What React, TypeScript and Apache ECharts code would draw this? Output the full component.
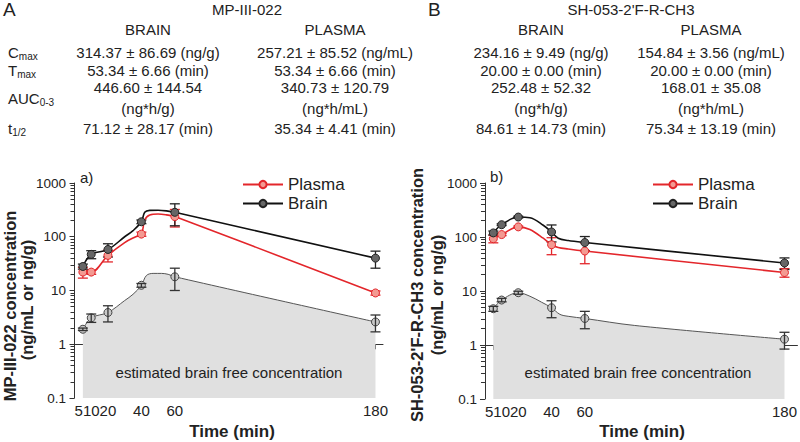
import React, { useEffect, useRef } from 'react';
import * as echarts from 'echarts';

// ---------- data ----------
const times = [5, 10, 20, 40, 60, 180];
const xTicks = [5, 10, 20, 40, 60, 180];
const xLabelsFirst = [5];
const xLabelsRest = [10, 20, 40, 60, 180];

// Panel a) MP-III-022
const plasmaA = [22, 22, 45, 112, 237, 9];
const plasmaSdA = [5, 2, 11, 10, 85, 0.8];
const brainA = [28, 47, 58, 190, 285, 40];
const brainSdA = [3, 8, 16, 15, 125, 14];
const freeA = [1.9, 3.1, 3.9, 12.5, 18, 2.6];
const freeSdA = [0.1, 0.55, 1.3, 1, 8, 0.9];
// fitted curve points (no markers)
const plasmaFitA: [number, number][] = [[30, 78], [36, 98], [42, 205], [45, 255], [50, 265], [55, 255]];
const brainFitA: [number, number][] = [[30, 100], [35, 130], [42, 285], [45, 310], [50, 312], [55, 303]];
const freeFitA: [number, number][] = [[30, 6.5], [35, 8.5], [43, 19], [47, 20.8], [52, 20.8], [56, 20]];

// Panel b) SH-053-2'F-R-CH3
const plasmaB = [93, 111, 154, 72, 55, 22];
const plasmaSdB = [15, 5, 5, 25, 23, 4];
const brainB = [119, 169, 234, 124, 79, 33];
const brainSdB = [10, 6, 8, 43, 23, 8];
const freeB = [4.7, 6.8, 9.3, 4.9, 3.1, 1.28];
const freeSdB = [0.5, 0.5, 0.6, 1.7, 1.1, 0.44];
const plasmaFitB: [number, number][] = [[27, 138], [35, 95], [44, 64], [50, 60]];
const brainFitB: [number, number][] = [[27, 228], [35, 165], [44, 95], [50, 86]];
const freeFitB: [number, number][] = [[27, 8.0], [34, 6.2], [45, 3.7], [50, 3.4], [90, 2.3]];

// table texts
const statNames = ['C', 'T', 'AUC', 't'];
const statSubs = ['max', 'max', '0-3', '1/2'];
const brainStatsA = ['314.37 ± 86.69 (ng/g)', '53.34 ± 6.66 (min)', '446.60 ± 144.54', '(ng*h/g)', '71.12 ± 28.17 (min)'];
const plasmaStatsA = ['257.21 ± 85.52 (ng/mL)', '53.34 ± 6.66 (min)', '340.73 ± 120.79', '(ng*h/mL)', '35.34 ± 4.41 (min)'];
const brainStatsB = ['234.16 ± 9.49 (ng/g)', '20.00 ± 0.00 (min)', '252.48 ± 52.32', '(ng*h/g)', '84.61 ± 14.73 (min)'];
const plasmaStatsB = ['154.84 ± 3.56 (ng/mL)', '20.00 ± 0.00 (min)', '168.01 ± 35.08', '(ng*h/mL)', '75.34 ± 13.19 (min)'];

const FONT = '"Liberation Sans", Arial, sans-serif';
const TXT = '#222';
const RED = '#e3262b';

function buildData(vals: number[], fit: [number, number][]) {
  const pts: any[] = times.map((t, i) => ({ value: [t, vals[i]], t }));
  fit.forEach(([t, v]) => pts.push({ value: [t, v], symbol: 'none', t }));
  pts.sort((a, b) => a.t - b.t);
  return pts.map((p) => (p.symbol ? { value: p.value, symbol: 'none' } : { value: p.value }));
}

function errData(vals: number[], sd: number[]) {
  return times.map((t, i) => [t, vals[i] - sd[i], vals[i] + sd[i]]);
}

function errSeries(p: number, vals: number[], sd: number[], color: string) {
  return {
    type: 'custom',
    xAxisIndex: p,
    yAxisIndex: p,
    z: 3,
    encode: { x: 0, y: [1, 2] },
    data: errData(vals, sd),
    renderItem: (_params: any, api: any) => {
      const x = api.value(0);
      const lo = api.coord([x, api.value(1)]);
      const hi = api.coord([x, api.value(2)]);
      const w = 5;
      const st = { stroke: color, lineWidth: 1.3 };
      return {
        type: 'group',
        children: [
          { type: 'line', shape: { x1: hi[0], y1: hi[1], x2: lo[0], y2: lo[1] }, style: st },
          { type: 'line', shape: { x1: hi[0] - w, y1: hi[1], x2: hi[0] + w, y2: hi[1] }, style: st },
          { type: 'line', shape: { x1: lo[0] - w, y1: lo[1], x2: lo[0] + w, y2: lo[1] }, style: st },
        ],
      };
    },
  };
}

function panelSeries(p: number, plasma: number[], plasmaSd: number[], plasmaFit: [number, number][],
  brain: number[], brainSd: number[], brainFit: [number, number][],
  free: number[], freeSd: number[], freeFit: [number, number][]) {
  return [
    {
      type: 'line', name: 'Free', xAxisIndex: p, yAxisIndex: p, smooth: 0.35, showAllSymbol: true,
      symbol: 'circle', symbolSize: 8, z: 2,
      data: buildData(free, freeFit),
      lineStyle: { color: '#555', width: 1 },
      itemStyle: { color: '#c8c8c8', borderColor: '#444', borderWidth: 1 },
      areaStyle: { color: '#e0e0e0', opacity: 1, origin: 'start' },
    },
    errSeries(p, free, freeSd, '#333'),
    {
      type: 'line', name: 'Plasma', xAxisIndex: p, yAxisIndex: p, smooth: 0.35, showAllSymbol: true,
      symbol: 'circle', symbolSize: 8, z: 4,
      data: buildData(plasma, plasmaFit),
      lineStyle: { color: RED, width: 1.6 },
      itemStyle: { color: '#f39a92', borderColor: RED, borderWidth: 1 },
    },
    errSeries(p, plasma, plasmaSd, RED),
    {
      type: 'line', name: 'Brain', xAxisIndex: p, yAxisIndex: p, smooth: 0.35, showAllSymbol: true,
      symbol: 'circle', symbolSize: 8, z: 5,
      data: buildData(brain, brainFit),
      lineStyle: { color: '#111', width: 1.6 },
      itemStyle: { color: '#666', borderColor: '#222', borderWidth: 1 },
    },
    errSeries(p, brain, brainSd, '#222'),
  ];
}

function txt(text: string, x: number, y: number, size: number, extra: any = {}) {
  return {
    type: 'text', x, y, z: 100, silent: true,
    style: { text, fontSize: size, fontFamily: FONT, fill: TXT, align: 'center', verticalAlign: 'middle', ...extra },
  };
}

function tableGraphics(letter: string, lx: number, title: string, tx: number, bx: number, px: number,
  brainStats: string[], plasmaStats: string[], withLabels: boolean) {
  const rowsY = [52, 70, 87, 108, 128];
  const g: any[] = [
    txt(letter, lx, 9.5, 19, { align: 'left' }),
    txt(title, tx, 9, 15),
    txt('BRAIN', bx, 29, 15),
    txt('PLASMA', px, 29, 15),
  ];
  brainStats.forEach((s, i) => g.push(txt(s, bx, rowsY[i], 15)));
  plasmaStats.forEach((s, i) => g.push(txt(s, px, rowsY[i], 15)));
  if (withLabels) {
    const labY = [52, 70, 98, 128];
    statNames.forEach((n, i) => {
      g.push({
        type: 'text', x: 8, y: labY[i], z: 100, silent: true,
        style: {
          text: `{m|${n}}{s|${statSubs[i]}}`, align: 'left', verticalAlign: 'middle',
          rich: {
            m: { fontSize: 15, fontFamily: FONT, fill: TXT },
            s: { fontSize: 10, fontFamily: FONT, fill: TXT, padding: [9, 0, 0, 0] },
          },
        },
      });
    });
  }
  return g;
}

const minorLogs: number[] = [];
for (let d = -1; d <= 2; d++) {
  for (let k = 2; k <= 9; k++) minorLogs.push(Math.log10(k * Math.pow(10, d)));
}

export default function App() {
  const ref = useRef<HTMLDivElement>(null);
  useEffect(() => {
    if (!ref.current) return;
    const chart = echarts.init(ref.current, undefined, { renderer: 'svg' });
    const axisColor = '#333';
    const xMin = [-1.5, -1.2];
    const xMax = [184.5, 187.8];
    const labelStyle = { fontSize: 15, color: TXT, margin: 5, fontFamily: FONT, showMinLabel: true, showMaxLabel: true };
    const xAxisMain = [0, 1].map((i) => ({
      type: 'value', gridIndex: i, min: xMin[i], max: xMax[i], position: 'bottom',
      axisLine: { show: true, lineStyle: { color: axisColor } },
      axisTick: { show: true, customValues: xTicks, length: 5, lineStyle: { color: axisColor } },
      axisLabel: { show: true, customValues: xLabelsRest, ...labelStyle },
      splitLine: { show: false },
    }));
    const xAxisFirst = [0, 1].map((i) => ({
      type: 'value', gridIndex: i, min: xMin[i], max: xMax[i], position: 'bottom',
      axisLine: { show: false },
      axisTick: { show: false },
      axisLabel: { show: true, customValues: xLabelsFirst, ...labelStyle, align: 'right', padding: [0, 0, 0, 0] },
      splitLine: { show: false },
    }));
    const logY = [0, 1].map((i) => ({
      type: 'log', logBase: 10, gridIndex: i, min: 0.1, max: 1000, position: 'left',
      axisLine: { show: true, lineStyle: { color: axisColor } },
      axisTick: { show: true, length: 5, lineStyle: { color: axisColor } },
      axisLabel: {
        fontSize: 13.5, color: TXT, margin: 6, fontFamily: FONT,
        formatter: (v: number) => (v < 1 ? '0.1' : String(Math.round(v))),
      },
      splitLine: { show: false },
    }));
    const minorY = [0, 1].map((i) => ({
      type: 'value', gridIndex: i, min: -1, max: 3, position: 'left',
      axisLine: { show: false },
      axisTick: { show: true, customValues: minorLogs, length: 4, lineStyle: { color: axisColor } },
      axisLabel: { show: false },
      splitLine: { show: false },
    }));

    const graphic: any[] = [
      ...tableGraphics('A', 3, 'MP-III-022', 247, 148, 335, brainStatsA, plasmaStatsA, true),
      ...tableGraphics('B', 428, "SH-053-2'F-R-CH3", 631, 541, 711, brainStatsB, plasmaStatsB, false),
      txt('a)', 80, 177, 15, { align: 'left' }),
      txt('b)', 490, 176, 15, { align: 'left' }),
      txt('estimated brain free concentration', 229, 372, 15),
      txt('estimated brain free concentration', 638, 372, 15),
      txt('Time (min)', 232, 431, 17, { fontWeight: 'bold' }),
      txt('Time (min)', 642, 431, 17, { fontWeight: 'bold' }),
      { ...txt('MP-III-022 concentration', 10, 306, 16.5, { fontWeight: 'bold' }), rotation: Math.PI / 2 },
      { ...txt('(ng/mL or ng/g)', 27, 300, 16.5, { fontWeight: 'bold' }), rotation: Math.PI / 2 },
      { ...txt("SH-053-2'F-R-CH3 concentration", 417, 295, 16.5, { fontWeight: 'bold' }), rotation: Math.PI / 2 },
      { ...txt('(ng/mL or ng/g)', 437, 295, 16.5, { fontWeight: 'bold' }), rotation: Math.PI / 2 },
    ];

    const legendCommon = {
      orient: 'vertical', top: 171, itemWidth: 40, itemHeight: 9, itemGap: 2,
      data: ['Plasma', 'Brain'], selectedMode: false,
      textStyle: { fontSize: 17, color: TXT, fontFamily: FONT },
    };

    chart.setOption({
      animation: false,
      backgroundColor: '#fff',
      grid: [
        { left: 72, top: 183, width: 311, height: 215 },
        { left: 483, top: 183, width: 315, height: 216 },
      ],
      legend: [
        { ...legendCommon, left: 237 },
        { ...legendCommon, left: 647 },
      ],
      xAxis: [...xAxisMain, ...xAxisFirst],
      yAxis: [...logY, ...minorY],
      series: [
        ...panelSeries(0, plasmaA, plasmaSdA, plasmaFitA, brainA, brainSdA, brainFitA, freeA, freeSdA, freeFitA),
        ...panelSeries(1, plasmaB, plasmaSdB, plasmaFitB, brainB, brainSdB, brainFitB, freeB, freeSdB, freeFitB),
      ],
      graphic,
    });
    return () => chart.dispose();
  }, []);
  return <div ref={ref} style={{ position: 'fixed', left: 0, top: 0, width: 800, height: 442 }} />;
}
